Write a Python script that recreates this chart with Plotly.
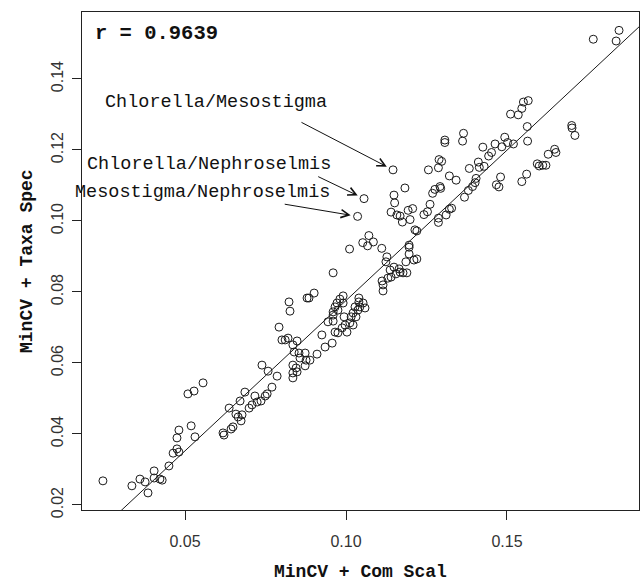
import plotly.graph_objects as go

# ---- data ----
x_vals = [
    0.0245, 0.0335, 0.0360, 0.0376, 0.0385, 0.0404, 0.0404, 0.0422, 0.0429, 0.0450,
    0.0463, 0.0475, 0.0481, 0.0475, 0.0481, 0.0519, 0.0531, 0.0509, 0.0528, 0.0556,
    0.0618, 0.0621, 0.0643, 0.0649, 0.0637, 0.0658, 0.0665, 0.0674, 0.0677, 0.0671,
    0.0686, 0.0699, 0.0708, 0.0717, 0.0724, 0.0736, 0.0749, 0.0755, 0.0739, 0.0758,
    0.0770, 0.0786, 0.0792, 0.0823, 0.0826, 0.0801, 0.0811, 0.0820, 0.0835, 0.0848,
    0.0839, 0.0854, 0.0873, 0.0857, 0.0876, 0.0888, 0.0910, 0.0835, 0.0845, 0.0835,
    0.0848, 0.0835, 0.0873, 0.0879, 0.0885, 0.0901, 0.0960,
    0.0925, 0.0935, 0.0957, 0.0966, 0.0975, 0.0988, 0.0997, 0.1003, 0.1012, 0.1022,
    0.0944, 0.0960, 0.0960, 0.0994, 0.1016, 0.1031, 0.1022, 0.1037, 0.1059, 0.1028,
    0.1043, 0.0966, 0.0975, 0.0972, 0.0991, 0.0981, 0.0991, 0.1040, 0.1040, 0.1053,
    0.0960,
    0.1112, 0.1115, 0.1115, 0.1130, 0.1140, 0.1155, 0.1137, 0.1149, 0.1165, 0.1177,
    0.1189, 0.1127, 0.1124, 0.1186, 0.1196, 0.1211, 0.1220, 0.1196, 0.1168,
    0.1183, 0.1149, 0.1151, 0.1140, 0.1158, 0.1168, 0.1175, 0.1193, 0.1207, 0.1199,
    0.1214, 0.1220, 0.1071, 0.1052, 0.1067, 0.1085, 0.1111, 0.1011, 0.1196,
    0.1242, 0.1261, 0.1253, 0.1269, 0.1276, 0.1292, 0.1294, 0.1287, 0.1287, 0.1311,
    0.1321, 0.1328, 0.1256, 0.1287, 0.1289, 0.1297, 0.1307, 0.1307, 0.1321, 0.1342,
    0.1365, 0.1362, 0.1368, 0.1380, 0.1393, 0.1401, 0.1404, 0.1383, 0.1411, 0.1414,
    0.1429, 0.1425, 0.1443, 0.1452, 0.1463, 0.1484, 0.1493, 0.1502, 0.1520, 0.1480,
    0.1467, 0.1475, 0.1546, 0.1561, 0.1511, 0.1535, 0.1546, 0.1551, 0.1566, 0.1563,
    0.1564,
    0.1768, 0.1839, 0.1848, 0.1701, 0.1702, 0.1711, 0.1648, 0.1652, 0.1628, 0.1594,
    0.1600, 0.1611, 0.1621,
]
y_vals = [
    0.0268, 0.0254, 0.0273, 0.0265, 0.0234, 0.0296, 0.0276, 0.0273, 0.0270, 0.0310,
    0.0346, 0.0358, 0.0349, 0.0389, 0.0411, 0.0423, 0.0392, 0.0513, 0.0521, 0.0544,
    0.0403, 0.0397, 0.0414, 0.0420, 0.0473, 0.0456, 0.0448, 0.0437, 0.0454, 0.0493,
    0.0518, 0.0473, 0.0482, 0.0507, 0.0490, 0.0493, 0.0507, 0.0513, 0.0594, 0.0577,
    0.0532, 0.0563, 0.0701, 0.0772, 0.0746, 0.0665, 0.0665, 0.0670, 0.0651, 0.0662,
    0.0631, 0.0628, 0.0628, 0.0614, 0.0608, 0.0608, 0.0625, 0.0594, 0.0586, 0.0572,
    0.0575, 0.0558, 0.0592, 0.0783, 0.0783, 0.0797, 0.0854,
    0.0679, 0.0645, 0.0656, 0.0687, 0.0685, 0.0699, 0.0707, 0.0687, 0.0713, 0.0707,
    0.0716, 0.0718, 0.0735, 0.0730, 0.0730, 0.0730, 0.0741, 0.0749, 0.0755, 0.0758,
    0.0758, 0.0758, 0.0749, 0.0769, 0.0769, 0.0780, 0.0789, 0.0783, 0.0772, 0.0769,
    0.0744,
    0.0831, 0.0820, 0.0803, 0.0839, 0.0842, 0.0851, 0.0862, 0.0870, 0.0865, 0.0854,
    0.0854, 0.0899, 0.0885, 0.0885, 0.0907, 0.0890, 0.0893, 0.0932, 0.0856,
    0.1093, 0.1073, 0.1051, 0.1025, 0.1017, 0.1014, 0.0997, 0.1030, 0.1035, 0.1004,
    0.0975, 0.0972, 0.0959, 0.0939, 0.0930, 0.0941, 0.0923, 0.0921, 0.0926,
    0.1018, 0.1047, 0.1026, 0.1078, 0.1089, 0.1097, 0.1092, 0.1008, 0.0996, 0.1017,
    0.1033, 0.1036, 0.1144, 0.1150, 0.1173, 0.1168, 0.1228, 0.1221, 0.1127, 0.1115,
    0.1247, 0.1225, 0.1067, 0.1086, 0.1097, 0.1108, 0.1120, 0.1148, 0.1166, 0.1151,
    0.1154, 0.1208, 0.1183, 0.1193, 0.1217, 0.1209, 0.1236, 0.1221, 0.1217, 0.1124,
    0.1102, 0.1096, 0.1111, 0.1132, 0.1301, 0.1299, 0.1317, 0.1335, 0.1339, 0.1266,
    0.1225,
    0.1512, 0.1507, 0.1537, 0.1269, 0.1262, 0.1241, 0.1202, 0.1193, 0.1188, 0.1161,
    0.1155, 0.1157, 0.1157,
]

# labelled outlier pairs
label_names = ["Chlorella/Mesostigma", "Chlorella/Nephroselmis", "Mesostigma/Nephroselmis"]
label_x = [0.1146, 0.1056, 0.1036]
label_y = [0.1144, 0.1063, 0.1013]

# where the label text sits and where the arrow starts (data units)
label_text_x = [0.0595, 0.0575, 0.0553]
label_text_y = [0.1333, 0.1158, 0.1080]
arrow_tail_x = [0.0857, 0.0909, 0.0805]
arrow_tail_y = [0.1280, 0.1127, 0.1048]

r_value = 0.9639
line_slope = 0.847
line_intercept = -0.0071

x_ticks = [0.05, 0.10, 0.15]
x_tick_text = ["0.05", "0.10", "0.15"]
y_ticks = [0.02, 0.04, 0.06, 0.08, 0.10, 0.12, 0.14]
y_tick_text = ["0.02", "0.04", "0.06", "0.08", "0.10", "0.12", "0.14"]

x_title = "MinCV + Com Scal"
y_title = "MinCV + Taxa Spec"

x_range = [0.0180, 0.1910]
y_range = [0.01859, 0.15887]

MONO = "Liberation Mono, Courier New, monospace"
SANS = "Liberation Sans, Arial, sans-serif"

fig = go.Figure()

fig.add_trace(go.Scatter(
    x=x_vals + label_x, y=y_vals + label_y, mode="markers",
    marker=dict(symbol="circle-open", size=8, color="#1a1a1a", line=dict(width=1, color="#1a1a1a")),
    showlegend=False, hoverinfo="x+y",
))

fig.add_trace(go.Scatter(
    x=x_range, y=[line_intercept + line_slope * v for v in x_range], mode="lines",
    line=dict(color="#1a1a1a", width=1), showlegend=False, hoverinfo="skip",
))

annotations = []
for name, tx, ty in zip(label_names, label_text_x, label_text_y):
    annotations.append(dict(x=tx, y=ty, xref="x", yref="y", text=name, showarrow=False,
                            font=dict(family=MONO, size=18.5, color="#111"),
                            xanchor="center", yanchor="middle"))
for hx, hy, tx, ty in zip(label_x, label_y, arrow_tail_x, arrow_tail_y):
    annotations.append(dict(x=hx, y=hy, xref="x", yref="y", ax=tx, ay=ty, axref="x", ayref="y",
                            text="", showarrow=True, arrowhead=5, arrowsize=1.6, arrowwidth=1,
                            arrowcolor="#111", standoff=7))

annotations.append(dict(x=0, y=1, xref="paper", yref="paper", xshift=11, yshift=-21,
                        text="<b>r = %.4f</b>" % r_value, showarrow=False,
                        font=dict(family=MONO, size=20.5, color="#111"),
                        xanchor="left", yanchor="middle"))
annotations.append(dict(x=0.5, y=0, xref="paper", yref="paper", yshift=-62,
                        text="<b>%s</b>" % x_title, showarrow=False,
                        font=dict(family=MONO, size=18, color="#111"),
                        xanchor="center", yanchor="middle"))
annotations.append(dict(x=0, y=0.5, xref="paper", yref="paper", xshift=-55,
                        text="<b>%s</b>" % y_title, showarrow=False, textangle=-90,
                        font=dict(family=MONO, size=18, color="#111"),
                        xanchor="center", yanchor="middle"))

fig.update_layout(
    width=641, height=581,
    margin=dict(l=82, r=2, t=12, b=71),
    paper_bgcolor="white", plot_bgcolor="white",
    annotations=annotations,
    xaxis=dict(range=x_range, tickvals=x_ticks, ticktext=x_tick_text,
               showgrid=False, zeroline=False, showline=True, mirror=True,
               linecolor="#222", linewidth=1, ticks="outside", ticklen=9, tickcolor="#222",
               ticklabelstandoff=8,
               tickfont=dict(family=SANS, size=16, color="#333")),
    yaxis=dict(range=y_range, tickvals=y_ticks, ticktext=y_tick_text, tickangle=-90,
               showgrid=False, zeroline=False, showline=True, mirror=True,
               linecolor="#222", linewidth=1, ticks="outside", ticklen=9, tickcolor="#222",
               ticklabelstandoff=3,
               tickfont=dict(family=SANS, size=16, color="#333")),
)

fig.write_html("out.html")
